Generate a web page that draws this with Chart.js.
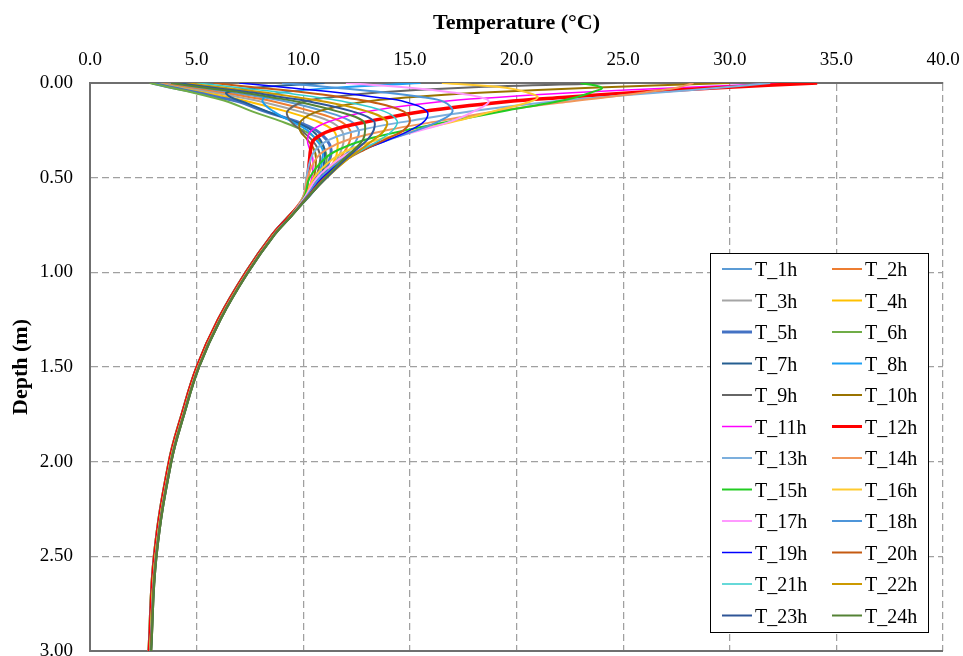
<!DOCTYPE html>
<html lang="en">
<head>
    <meta charset="UTF-8">
    <title>Soil temperature profiles</title>
    <script src="https://cdn.jsdelivr.net/npm/chart.js"></script>
    <style>
        html, body { margin: 0; padding: 0; background: #fff; }
        #wrap { width: 963px; height: 656px; }
    </style>
</head>
<body>
<div id="wrap"><canvas id="profileChart" width="963" height="656"></canvas></div>

<script>
    // Depth of each sample (m), shared by every hourly profile
    const depthM = [0, 0.025, 0.05, 0.075, 0.1, 0.15, 0.2, 0.25, 0.3, 0.35, 0.4, 0.5, 0.6, 0.7, 0.8, 1.0, 1.25, 1.5, 1.75, 2.0, 2.5, 3.0];

    // Temperature (°C) at each depth, one array per hour
    const T_1h  = [3.5, 5.0, 6.6, 8.1, 9.3, 11.0, 12.2, 12.6, 12.5, 12.2, 11.8, 11.0, 10.25, 9.34, 8.54, 7.29, 5.99, 4.99, 4.29, 3.69, 2.99, 2.74];
    const T_2h  = [3.3, 4.6, 6.1, 7.5, 8.7, 10.4, 11.7, 12.2, 12.2, 12.0, 11.7, 11.0, 10.25, 9.34, 8.54, 7.29, 5.99, 4.99, 4.29, 3.69, 2.99, 2.74];
    const T_3h  = [3.1, 4.3, 5.7, 7.0, 8.1, 9.8, 11.2, 11.8, 11.9, 11.8, 11.6, 11.0, 10.25, 9.34, 8.54, 7.29, 5.99, 4.99, 4.29, 3.69, 2.99, 2.74];
    const T_4h  = [3.0, 4.1, 5.3, 6.5, 7.5, 9.2, 10.6, 11.4, 11.6, 11.6, 11.5, 10.95, 10.25, 9.34, 8.54, 7.29, 5.99, 4.99, 4.29, 3.69, 2.99, 2.74];
    const T_5h  = [2.9, 3.9, 5.0, 6.0, 7.0, 8.2, 9.6, 10.6, 11.1, 11.3, 11.25, 10.9, 10.25, 9.37, 8.57, 7.32, 6.02, 5.02, 4.32, 3.72, 3.02, 2.77];
    const T_6h  = [2.8, 3.8, 4.8, 5.7, 6.5, 7.6, 8.9, 10.0, 10.7, 11.0, 11.1, 10.85, 10.2, 9.37, 8.57, 7.32, 6.02, 5.02, 4.32, 3.72, 3.02, 2.77];
    const T_7h  = [11.0, 7.8, 6.4, 6.6, 7.2, 8.3, 9.5, 10.4, 10.8, 11.0, 11.0, 10.8, 10.2, 9.37, 8.57, 7.32, 6.02, 5.02, 4.32, 3.72, 3.02, 2.77];
    const T_8h  = [15.5, 11.5, 9.0, 8.2, 8.1, 8.6, 9.4, 10.2, 10.6, 10.9, 10.9, 10.7, 10.2, 9.37, 8.57, 7.32, 6.02, 5.02, 4.32, 3.72, 3.02, 2.77];
    const T_9h  = [24.7, 17.5, 13.5, 11.3, 10.0, 9.25, 9.4, 9.9, 10.4, 10.7, 10.8, 10.6, 10.15, 9.39, 8.59, 7.34, 6.04, 5.04, 4.34, 3.74, 3.04, 2.79];
    const T_10h = [30.0, 23.5, 18.5, 15.0, 12.8, 10.7, 9.9, 9.85, 10.2, 10.5, 10.6, 10.5, 10.15, 9.39, 8.59, 7.34, 6.04, 5.04, 4.34, 3.74, 3.04, 2.79];
    const T_11h = [33.0, 27.5, 22.8, 19.2, 16.3, 13.0, 11.3, 10.4, 10.2, 10.3, 10.45, 10.4, 10.1, 9.39, 8.59, 7.34, 6.04, 5.04, 4.34, 3.74, 3.04, 2.79];
    const T_12h = [34.1, 29.5, 25.6, 22.3, 19.4, 15.6, 13.2, 11.3, 10.5, 10.35, 10.3, 10.2, 10.05, 9.39, 8.59, 7.34, 6.04, 5.04, 4.34, 3.74, 3.04, 2.79];
    const T_13h = [31.9, 29.5, 26.7, 24.0, 21.5, 17.8, 15.0, 12.6, 11.2, 10.6, 10.35, 10.15, 10.0, 9.42, 8.62, 7.37, 6.07, 5.07, 4.37, 3.77, 3.07, 2.82];
    const T_14h = [28.3, 27.5, 26.0, 24.2, 22.3, 19.0, 16.4, 13.9, 12.1, 11.1, 10.6, 10.2, 10.0, 9.42, 8.62, 7.37, 6.07, 5.07, 4.37, 3.77, 3.07, 2.82];
    const T_15h = [23.0, 24.0, 23.5, 22.8, 21.8, 19.3, 17.0, 14.8, 12.9, 11.7, 11.0, 10.3, 10.05, 9.42, 8.62, 7.37, 6.07, 5.07, 4.37, 3.77, 3.07, 2.82];
    const T_16h = [16.5, 19.5, 20.5, 21.0, 20.6, 18.9, 17.2, 15.3, 13.5, 12.2, 11.4, 10.5, 10.1, 9.42, 8.62, 7.37, 6.07, 5.07, 4.37, 3.77, 3.07, 2.82];
    const T_17h = [12.0, 15.0, 17.0, 18.3, 18.7, 18.0, 17.0, 15.5, 13.9, 12.6, 11.7, 10.65, 10.1, 9.44, 8.64, 7.39, 6.09, 5.09, 4.39, 3.79, 3.09, 2.84];
    const T_18h = [9.0, 11.5, 13.8, 15.6, 16.6, 17.0, 16.4, 15.3, 14.0, 12.8, 11.9, 10.8, 10.15, 9.44, 8.64, 7.39, 6.09, 5.09, 4.39, 3.79, 3.09, 2.84];
    const T_19h = [7.0, 9.3, 11.6, 13.4, 14.8, 15.8, 15.7, 15.0, 14.0, 12.9, 12.0, 10.9, 10.2, 9.44, 8.64, 7.39, 6.09, 5.09, 4.39, 3.79, 3.09, 2.84];
    const T_20h = [5.8, 7.9, 10.1, 11.8, 13.2, 14.7, 15.0, 14.7, 13.8, 12.9, 12.1, 11.0, 10.2, 9.44, 8.64, 7.39, 6.09, 5.09, 4.39, 3.79, 3.09, 2.84];
    const T_21h = [5.0, 7.0, 9.0, 10.6, 12.0, 13.8, 14.4, 14.2, 13.6, 12.8, 12.1, 11.05, 10.25, 9.47, 8.67, 7.42, 6.12, 5.12, 4.42, 3.82, 3.12, 2.87];
    const T_22h = [4.5, 6.3, 8.2, 9.7, 11.1, 13.0, 13.9, 13.8, 13.3, 12.7, 12.1, 11.1, 10.25, 9.47, 8.67, 7.42, 6.12, 5.12, 4.42, 3.82, 3.12, 2.87];
    const T_23h = [4.1, 5.8, 7.6, 9.0, 10.4, 12.3, 13.3, 13.3, 13.0, 12.5, 12.0, 11.1, 10.25, 9.47, 8.67, 7.42, 6.12, 5.12, 4.42, 3.82, 3.12, 2.87];
    const T_24h = [3.8, 5.4, 7.1, 8.5, 9.8, 11.6, 12.8, 12.9, 12.8, 12.4, 11.9, 11.05, 10.25, 9.47, 8.67, 7.42, 6.12, 5.12, 4.42, 3.82, 3.12, 2.87];

    const hourLabels = ['T_1h', 'T_2h', 'T_3h', 'T_4h', 'T_5h', 'T_6h', 'T_7h', 'T_8h', 'T_9h', 'T_10h', 'T_11h', 'T_12h',
                        'T_13h', 'T_14h', 'T_15h', 'T_16h', 'T_17h', 'T_18h', 'T_19h', 'T_20h', 'T_21h', 'T_22h', 'T_23h', 'T_24h'];
    const hourSeries = [T_1h, T_2h, T_3h, T_4h, T_5h, T_6h, T_7h, T_8h, T_9h, T_10h, T_11h, T_12h,
                        T_13h, T_14h, T_15h, T_16h, T_17h, T_18h, T_19h, T_20h, T_21h, T_22h, T_23h, T_24h];

    // Excel-like series colours and widths
    const hourColors = ['#5B9BD5', '#ED7D31', '#A5A5A5', '#FFC000', '#4472C4', '#70AD47',
                        '#255E91', '#1E9FF2', '#666666', '#997300', '#FF00FF', '#FF0000',
                        '#7CAFDD', '#F1975A', '#22CC22', '#FFCA2E', '#FF99FF', '#4E95D9',
                        '#0000FF', '#C55A11', '#33CCCC', '#CC9900', '#2F5597', '#548235'];
    const hourWidths = [2, 2, 2, 2, 3, 2, 2, 2, 2, 2, 1.5, 3.5, 2, 2, 2, 2, 2, 2, 1.5, 2, 1.5, 2, 2, 2];

    const serif = '"Liberation Serif", "Times New Roman", serif';

    const datasets = hourSeries.map((temps, i) => ({
        label: hourLabels[i],
        data: temps.map((t, k) => ({ x: t, y: depthM[k] })),
        borderColor: hourColors[i],
        backgroundColor: hourColors[i],
        borderWidth: hourWidths[i],
        showLine: true,
        pointRadius: 0,
        tension: 0.4,
        fill: false,
        order: hourSeries.length - i   // later hours drawn on top, as in Excel
    }));

    // Boxed two-column legend in the lower right of the plot
    const boxLegend = {
        id: 'boxLegend',
        afterDraw(chart) {
            const ctx = chart.ctx;
            const left = 710, top = 253, w = 218, h = 379;
            ctx.save();
            ctx.fillStyle = '#fff';
            ctx.fillRect(left, top, w, h);
            ctx.strokeStyle = '#000';
            ctx.lineWidth = 1;
            ctx.strokeRect(left + 0.5, top + 0.5, w, h);
            ctx.font = '20px ' + serif;
            ctx.textBaseline = 'alphabetic';
            ctx.fillStyle = '#000';
            chart.data.datasets.forEach((ds, i) => {
                const col = i % 2;
                const row = Math.floor(i / 2);
                const y = 269 + row * 31.5;
                const x0 = col ? 832 : 722;
                ctx.beginPath();
                ctx.strokeStyle = ds.borderColor;
                ctx.lineWidth = Math.min(ds.borderWidth, 3);
                ctx.moveTo(x0, y);
                ctx.lineTo(x0 + 30, y);
                ctx.stroke();
                ctx.fillText(ds.label, x0 + 33, y + 7);
            });
            ctx.restore();
        }
    };

    const gridGray = '#a0a0a0';
    const axisGray = '#6f6f6f';

    new Chart(document.getElementById('profileChart'), {
        type: 'scatter',
        data: { datasets: datasets },
        options: {
            responsive: false,
            animation: false,
            devicePixelRatio: 1,
            layout: { padding: { left: 0, right: 20, top: 0, bottom: 5 } },
            plugins: {
                legend: { display: false },
                tooltip: { enabled: false }
            },
            scales: {
                x: {
                    type: 'linear',
                    position: 'top',
                    min: 0,
                    max: 40,
                    ticks: {
                        stepSize: 5,
                        padding: 12,
                        maxRotation: 0,
                        color: '#000',
                        font: { family: serif, size: 19 },
                        callback: v => v.toFixed(1)
                    },
                    grid: { color: gridGray, lineWidth: 1.25, drawTicks: false },
                    border: {
                        display: true,
                        color: axisGray,
                        width: 2,
                        dash: ctx => ctx.type === 'tick' ? [7, 4] : []
                    },
                    title: {
                        display: true,
                        text: 'Temperature (°C)',
                        color: '#000',
                        font: { family: serif, size: 22, weight: 'bold' },
                        padding: { top: 10, bottom: 0 }
                    },
                    afterFit: s => {
                        s.height = 83;
                        s.paddingLeft = 0;
                        s.paddingRight = 0;
                    }
                },
                y: {
                    type: 'linear',
                    reverse: true,
                    min: 0,
                    max: 3,
                    ticks: {
                        stepSize: 0.5,
                        padding: 17,
                        color: '#000',
                        font: { family: serif, size: 19 },
                        callback: v => v.toFixed(2)
                    },
                    grid: {
                        color: ctx => (ctx.tick && ctx.tick.value === 3) ? axisGray : gridGray,
                        lineWidth: ctx => (ctx.tick && ctx.tick.value === 3) ? 2 : 1.25,
                        drawTicks: false
                    },
                    border: {
                        display: true,
                        color: axisGray,
                        width: 2,
                        dash: ctx => (ctx.type === 'tick' && ctx.tick.value !== 3) ? [7, 4] : []
                    },
                    title: {
                        display: true,
                        text: 'Depth (m)',
                        color: '#000',
                        font: { family: serif, size: 22, weight: 'bold' },
                        padding: { top: 8, bottom: 0 }
                    },
                    afterFit: s => {
                        s.width = 90;
                        s.paddingTop = 0;
                        s.paddingBottom = 0;
                    }
                }
            }
        },
        plugins: [boxLegend]
    });
</script>
</body>
</html>
